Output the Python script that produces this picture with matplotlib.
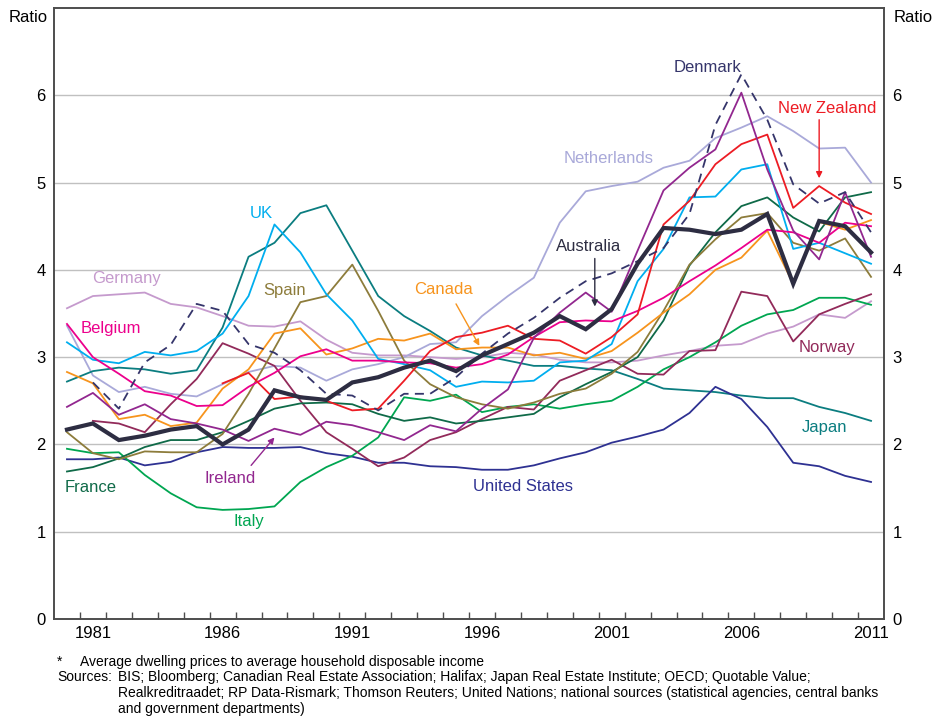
import numpy as np
import matplotlib
matplotlib.use("Agg")
import matplotlib.pyplot as plt

plt.rcParams['font.family'] = ['Liberation Sans', 'DejaVu Sans']

# annual data, 1980-2011 (ratio of dwelling prices to disposable income)
years = list(range(1980, 2012))
nan = np.nan

australia = [2.17, 2.24, 2.05, 2.10, 2.17, 2.21, 2.00, 2.17, 2.62, 2.54, 2.51, 2.71, 2.77, 2.88, 2.96, 2.84,
             3.02, 3.15, 3.28, 3.47, 3.32, 3.55, 4.07, 4.48, 4.46, 4.41, 4.46, 4.64, 3.84, 4.56, 4.50, 4.20]
belgium = [3.38, 3.00, 2.81, 2.61, 2.56, 2.44, 2.45, 2.66, 2.82, 3.01, 3.09, 2.96, 2.96, 2.94, 2.93, 2.88,
           2.92, 3.03, 3.23, 3.40, 3.42, 3.41, 3.53, 3.68, 3.87, 4.05, 4.25, 4.46, 4.43, 4.31, 4.54, 4.50]
canada = [2.83, 2.70, 2.29, 2.34, 2.21, 2.25, 2.64, 2.86, 3.27, 3.33, 3.03, 3.10, 3.21, 3.19, 3.27, 3.09,
          3.11, 3.11, 3.02, 3.05, 2.98, 3.07, 3.28, 3.51, 3.72, 4.00, 4.14, 4.45, 3.84, 4.55, 4.46, 4.57]
denmark = [nan, 2.71, 2.41, 2.94, 3.14, 3.61, 3.53, 3.15, 3.05, 2.85, 2.58, 2.56, 2.39, 2.58, 2.58, 2.77,
           3.04, 3.27, 3.45, 3.68, 3.87, 3.96, 4.10, 4.25, 4.64, 5.66, 6.24, 5.72, 4.98, 4.76, 4.89, 4.43]
france = [1.69, 1.74, 1.84, 1.97, 2.05, 2.05, 2.14, 2.27, 2.41, 2.47, 2.48, 2.46, 2.35, 2.27, 2.31, 2.24,
          2.27, 2.31, 2.35, 2.54, 2.69, 2.83, 3.00, 3.42, 4.05, 4.43, 4.73, 4.83, 4.60, 4.44, 4.83, 4.89]
germany = [3.56, 3.70, 3.72, 3.74, 3.61, 3.57, 3.47, 3.36, 3.35, 3.41, 3.20, 3.05, 3.02, 3.02, 3.00, 2.98,
           3.00, 3.05, 3.03, 2.97, 2.94, 2.94, 2.96, 3.02, 3.07, 3.13, 3.15, 3.27, 3.35, 3.49, 3.45, 3.64]
ireland = [2.43, 2.59, 2.34, 2.46, 2.29, 2.24, 2.17, 2.04, 2.18, 2.11, 2.26, 2.22, 2.14, 2.05, 2.22, 2.15,
           2.41, 2.63, 3.22, 3.51, 3.74, 3.52, 4.22, 4.91, 5.17, 5.38, 6.03, 5.15, 4.45, 4.12, 4.89, 4.15]
italy = [1.95, 1.90, 1.91, 1.65, 1.44, 1.28, 1.25, 1.26, 1.29, 1.57, 1.74, 1.87, 2.08, 2.54, 2.50, 2.57,
         2.37, 2.43, 2.46, 2.41, 2.46, 2.50, 2.66, 2.86, 3.00, 3.17, 3.36, 3.49, 3.54, 3.68, 3.68, 3.60]
japan = [2.72, 2.84, 2.88, 2.86, 2.81, 2.85, 3.34, 4.15, 4.31, 4.65, 4.74, 4.22, 3.70, 3.47, 3.30, 3.11,
         3.02, 2.96, 2.90, 2.90, 2.87, 2.85, 2.75, 2.64, 2.62, 2.60, 2.56, 2.53, 2.53, 2.43, 2.36, 2.27]
netherlands = [3.36, 2.79, 2.60, 2.66, 2.58, 2.55, 2.69, 2.83, 2.90, 2.88, 2.73, 2.86, 2.92, 3.00, 3.15, 3.17,
               3.47, 3.70, 3.91, 4.54, 4.90, 4.96, 5.01, 5.17, 5.25, 5.51, 5.63, 5.76, 5.59, 5.39, 5.40, 5.00]
new_zealand = [nan, nan, nan, nan, nan, nan, 2.70, 2.82, 2.52, 2.55, 2.50, 2.39, 2.41, 2.73, 3.07, 3.23,
               3.28, 3.36, 3.21, 3.19, 3.04, 3.23, 3.49, 4.52, 4.79, 5.21, 5.44, 5.55, 4.71, 4.96, 4.77, 4.64]
norway = [nan, 2.27, 2.24, 2.14, 2.46, 2.75, 3.16, 3.04, 2.90, 2.50, 2.14, 1.95, 1.75, 1.85, 2.05, 2.14,
          2.29, 2.43, 2.40, 2.73, 2.85, 2.97, 2.81, 2.80, 3.07, 3.08, 3.75, 3.70, 3.18, 3.49, 3.61, 3.72]
spain = [2.14, 1.90, 1.83, 1.92, 1.91, 1.91, 2.12, 2.58, 3.10, 3.63, 3.70, 4.06, 3.53, 2.96, 2.69, 2.54,
         2.46, 2.41, 2.48, 2.58, 2.64, 2.81, 3.06, 3.53, 4.06, 4.35, 4.60, 4.65, 4.31, 4.22, 4.36, 3.92]
uk = [3.17, 2.97, 2.93, 3.06, 3.02, 3.07, 3.27, 3.70, 4.52, 4.20, 3.72, 3.42, 2.98, 2.92, 2.85, 2.66,
      2.72, 2.71, 2.73, 2.94, 2.96, 3.15, 3.87, 4.24, 4.83, 4.84, 5.15, 5.21, 4.24, 4.31, 4.19, 4.07]
us = [1.83, 1.83, 1.85, 1.76, 1.80, 1.91, 1.97, 1.96, 1.96, 1.97, 1.90, 1.86, 1.79, 1.79, 1.75, 1.74,
      1.71, 1.71, 1.76, 1.84, 1.91, 2.02, 2.09, 2.17, 2.36, 2.66, 2.52, 2.20, 1.79, 1.75, 1.64, 1.57]

tick_years = [1981, 1986, 1991, 1996, 2001, 2006, 2011]
footnote = "Average dwelling prices to average household disposable income"
sources = ["BIS; Bloomberg; Canadian Real Estate Association; Halifax; Japan Real Estate Institute; OECD; Quotable Value;",
           "Realkreditraadet; RP Data-Rismark; Thomson Reuters; United Nations; national sources (statistical agencies, central banks",
           "and government departments)"]

fig = plt.figure(figsize=(9.38, 7.19), dpi=100)
ax = fig.add_axes([54/938, 1-619/719, 830/938, 611/719])

# thin lines first, Australia on top
series = [
    (germany, '#c59acd'),
    (netherlands, '#a9a9d9'),
    (japan, '#0b7d80'),
    (us, '#2e3192'),
    (italy, '#00a651'),
    (norway, '#922a5a'),
    (france, '#0f6a48'),
    (spain, '#8d7c3b'),
    (canada, '#f7941d'),
    (uk, '#00aeef'),
    (belgium, '#ec008c'),
    (new_zealand, '#ed1c24'),
    (ireland, '#92278f'),
]
for vals, col in series:
    ax.plot(years, vals, color=col, lw=1.3, zorder=3)
ax.plot(years, denmark, color='#35356b', lw=1.3, dashes=(5, 3.5), zorder=4)
ax.plot(years, australia, color='#2d2d42', lw=3.0, zorder=5, solid_joinstyle='miter')

ax.set_xlim(1979.5, 2011.5)
ax.set_ylim(0, 7)

for v in range(1, 7):
    ax.axhline(v, color='#c0c0c0', lw=1.0, zorder=1)

ax.set_xticks(tick_years)
ax.set_xticklabels([str(y) for y in tick_years], fontsize=12)
ax.set_xticks(np.arange(1980.5, 2011.5, 1), minor=True)
ax.tick_params(axis='x', which='major', length=0, pad=5)
ax.tick_params(axis='x', which='minor', direction='in', length=5, width=1, color='#4d4d4d')

ax.set_yticks(range(0, 7))
ax.tick_params(axis='y', which='both', length=0, labelsize=12, pad=6, labelright=True)

for s in ax.spines.values():
    s.set_color('#4d4d4d')
    s.set_linewidth(1.4)

ax.text(-0.008, 0.985, 'Ratio', transform=ax.transAxes, ha='right', va='center', fontsize=12)
ax.text(1.011, 0.985, 'Ratio', transform=ax.transAxes, ha='left', va='center', fontsize=12)

# series labels
lab = dict(fontsize=12, ha='center', va='center', zorder=6)
ax.text(2004.7, 6.32, 'Denmark', color='#35356b', **lab)
ax.text(2009.3, 5.85, 'New Zealand', color='#ed1c24', **lab)
ax.text(2000.9, 5.28, 'Netherlands', color='#a9a9d9', **lab)
ax.text(1987.5, 4.64, 'UK', color='#00aeef', **lab)
ax.text(2000.1, 4.27, 'Australia', color='#2d2d42', **lab)
ax.text(1982.3, 3.90, 'Germany', color='#c59acd', **lab)
ax.text(1988.4, 3.76, 'Spain', color='#8d7c3b', **lab)
ax.text(1994.5, 3.77, 'Canada', color='#f7941d', **lab)
ax.text(1981.7, 3.33, 'Belgium', color='#ec008c', **lab)
ax.text(2009.3, 3.11, 'Norway', color='#922a5a', **lab)
ax.text(2009.2, 2.19, 'Japan', color='#0b7d80', **lab)
ax.text(1986.3, 1.61, 'Ireland', color='#92278f', **lab)
ax.text(1980.9, 1.51, 'France', color='#0f6a48', **lab)
ax.text(1997.6, 1.52, 'United States', color='#2e3192', **lab)
ax.text(1987.0, 1.12, 'Italy', color='#00a651', **lab)

# arrows
arr = dict(arrowstyle='-|>', lw=1.0, mutation_scale=9, shrinkA=0, shrinkB=0)
ax.annotate('', xy=(2009.0, 5.05), xytext=(2009.0, 5.72), arrowprops=dict(color='#ed1c24', **arr), zorder=6)
ax.annotate('', xy=(2000.35, 3.58), xytext=(2000.35, 4.13), arrowprops=dict(color='#2d2d42', **arr), zorder=6)
ax.annotate('', xy=(1995.9, 3.13), xytext=(1995.0, 3.61), arrowprops=dict(color='#f7941d', **arr), zorder=6)
ax.annotate('', xy=(1988.0, 2.08), xytext=(1987.1, 1.76), arrowprops=dict(color='#92278f', **arr), zorder=6)

# footnotes
fn = dict(fontsize=10, va='center')
fig.text(57/938, 1-662/719, '*', **fn)
fig.text(80/938, 1-662/719, footnote, **fn)
fig.text(57/938, 1-677/719, 'Sources:', **fn)
for i, line in enumerate(sources):
    fig.text(118/938, 1-(677+16*i)/719, line, **fn)

fig.savefig('out.png', dpi=100)
